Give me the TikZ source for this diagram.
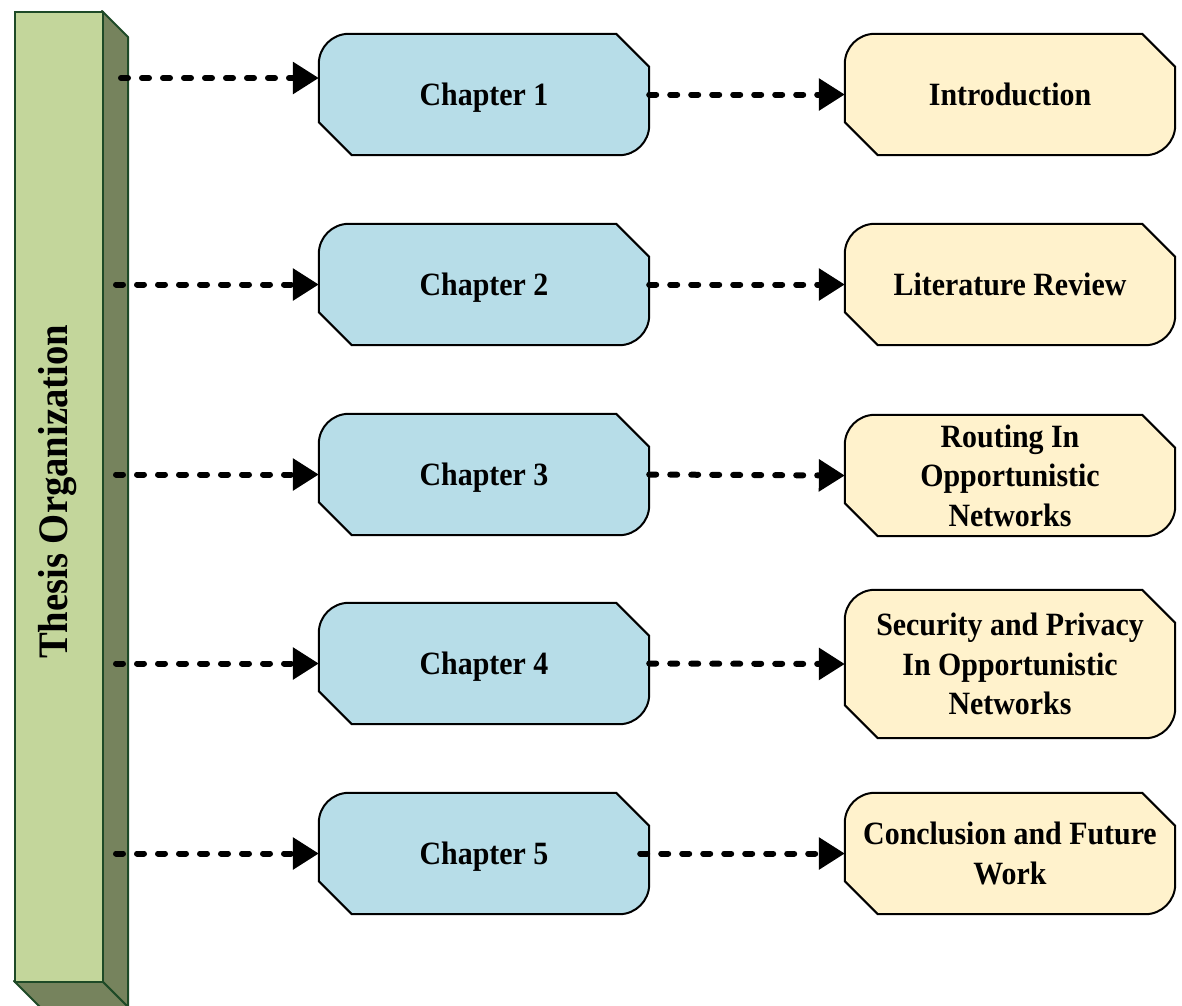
\documentclass[tikz,border=0pt]{standalone}
\usepackage{fontspec}
\setmainfont{Liberation Serif}[FakeStretch=0.92]
\usetikzlibrary{arrows.meta,backgrounds,calc}

\definecolor{barfront}{HTML}{C3D69B}
\definecolor{barside}{HTML}{76835D}
\definecolor{barline}{HTML}{1E4A27}
\definecolor{chapfill}{HTML}{B7DDE8}
\definecolor{topicfill}{HTML}{FFF2CC}

% outline with rounded top-left / bottom-right and cut top-right / bottom-left corners
\newcommand\cutoutline[2]{%
  \path[draw=black, line width=2pt, fill=#2]
    ($(#1.north west)+(0,-30)$) arc[start angle=180, end angle=90, radius=30pt]
    -- ($(#1.north east)+(-33,0)$) -- ($(#1.north east)+(0,-33)$)
    -- ($(#1.south east)+(0,30)$) arc[start angle=0, end angle=-90, radius=30pt]
    -- ($(#1.south west)+(33,0)$) -- ($(#1.south west)+(0,33)$) -- cycle;}

\begin{document}
\begin{tikzpicture}[x=1pt, y=1pt,
  labelfont/.style={font=\fontsize{32.5}{39.5}\selectfont\bfseries},
  boxnode/.style={labelfont, align=center, inner sep=0pt,
    minimum width=330pt, minimum height=121pt},
  oneline/.style={text height=21.5pt, text depth=0pt},
  conn/.style={line width=6pt, line cap=round, dash pattern=on 7pt off 14pt,
    -{Triangle[length=26pt 0 0, width=31pt 0 0]}}]

\useasboundingbox (0,0) rectangle (1182,-1005);
\clip (0,0) rectangle (1182,-1005);

% the upright bar: side and bottom faces, then the front face
\path[draw=barline, line width=2pt, fill=barside, line join=round]
  (102,-11) -- (128,-37) -- (128,-1007) -- (102,-981) -- cycle;
\path[draw=barline, line width=2pt, fill=barside, line join=round]
  (14,-981) -- (102,-981) -- (128,-1007) -- (40,-1007) -- cycle;
\node[draw=barline, line width=2pt, fill=barfront, inner sep=0pt,
  minimum width=88pt, minimum height=970pt, anchor=north west] (bar) at (14,-11) {};
\node[rotate=90, anchor=base, font=\fontsize{42}{48}\selectfont\bfseries]
  (title) at (67,-492) {Thesis Organization};

% chapters
\node[boxnode, oneline] (c1) at (484,-94.5) {Chapter 1};
\node[boxnode, oneline] (c2) at (484,-284.5) {Chapter 2};
\node[boxnode, oneline] (c3) at (484,-474.5) {Chapter 3};
\node[boxnode, oneline] (c4) at (484,-663.5) {Chapter 4};
\node[boxnode, oneline] (c5) at (484,-853.5) {Chapter 5};

% chapter topics
\node[boxnode, oneline] (t1) at (1010,-94.5) {Introduction};
\node[boxnode, oneline] (t2) at (1010,-284.5) {Literature Review};
\node[boxnode] (t3) at (1010,-475.5) {Routing In\\Opportunistic\\Networks};
\node[boxnode, minimum height=148pt] (t4) at (1010,-664) {Security and Privacy\\In Opportunistic\\Networks};
\node[boxnode] (t5) at (1010,-853.5) {Conclusion and Future\\Work};

\begin{scope}[on background layer]
  \foreach \n in {c1,c2,c3,c4,c5} {\cutoutline{\n}{chapfill}}
  \foreach \n in {t1,t2,t3,t4,t5} {\cutoutline{\n}{topicfill}}
\end{scope}

% connectors from the bar to the chapters
\coordinate (s1) at (121,-78);
\draw[conn] (s1) -- (s1 -| c1.west);
\foreach \i in {2,...,5} {
  \coordinate (s\i) at ([xshift=12pt]c\i.west -| bar.east);
  \draw[conn] (s\i) -- (c\i.west);
}

% connectors from the chapters to their topics
\foreach \i in {1,...,4} {\draw[conn] (c\i.east) -- (t\i.west);}
\draw[conn, shorten <=-9pt] (c5.east) -- (t5.west);

\end{tikzpicture}
\end{document}
